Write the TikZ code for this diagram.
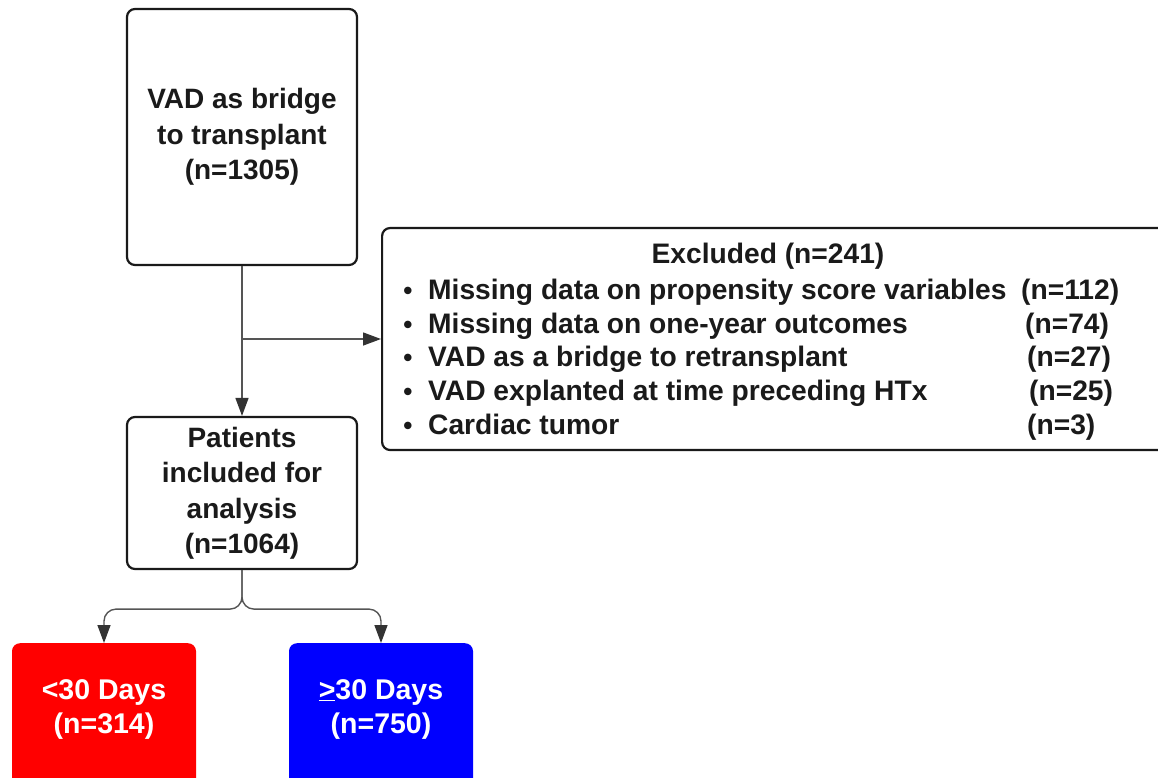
\documentclass[tikz,border=0pt]{standalone}
\usepackage{fontspec}
\setmainfont{Liberation Sans}
\usetikzlibrary{arrows.meta}
\definecolor{ink}{HTML}{1A1A1A}
\definecolor{wire}{HTML}{555555}
\definecolor{tip}{HTML}{333333}
\begin{document}
\begin{tikzpicture}[x=1pt,y=-1pt,
  box/.style={draw=ink, line width=2.2pt, rounded corners=8pt, inner sep=0pt,
    font=\fontsize{28}{35.5}\selectfont\bfseries, align=center, text=ink},
  colbox/.style={rounded corners=8pt, inner sep=0pt, minimum width=184pt,
    minimum height=160pt, anchor=north},
  coltxt/.style={font=\fontsize{28.5}{34}\selectfont\bfseries, align=center, text=white},
  item/.style={font=\fontsize{28.2}{33}\selectfont\bfseries, anchor=base west,
    inner sep=0pt, text=ink},
  dot/.style={font=\fontsize{26}{33}\selectfont\bfseries, anchor=base,
    inner sep=0pt, text=ink},
  conn/.style={draw=wire, line width=1.4pt,
    -{Triangle[length=18pt,width=13pt,fill=tip,color=tip]}}
]
\useasboundingbox (0,0) rectangle (1158,777);

% main flow boxes
\node[box, minimum width=230pt, minimum height=256pt] (top) at (242,137)
  {VAD as bridge\\to transplant\\(n=1305)};
\node[box, minimum width=230pt, minimum height=152pt] (pat) at (242,493)
  {Patients\\included for\\analysis\\(n=1064)};

% exclusion box (runs past the right edge)
\node[box, minimum width=820pt, minimum height=222pt, anchor=west] (excl) at (381,339) {};
\node[item, anchor=base] (exttl) at (768,263) {Excluded (n=241)};

% list rows, set on common baselines
\node[dot] (b1) at (408,299) {•};
\node[dot] (b2) at (408,333) {•};
\node[dot] (b3) at (408,366) {•};
\node[dot] (b4) at (408,400) {•};
\node[dot] (b5) at (408,434) {•};

\node[item] (r1) at (428,299) {Missing data on propensity score variables};
\node[item] (r2) at (428,333) {Missing data on one-year outcomes};
\node[item] (r3) at (428,366) {VAD as a bridge to retransplant};
\node[item] (r4) at (428,400) {VAD explanted at time preceding HTx};
\node[item] (r5) at (428,434) {Cardiac tumor};

\node[item] (n1) at (1021,299) {(n=112)};
\node[item] (n2) at (1025,333) {(n=74)};
\node[item] (n3) at (1027,366) {(n=27)};
\node[item] (n4) at (1029,400) {(n=25)};
\node[item] (n5) at (1027,434) {(n=3)};

% outcome groups
\node[colbox, fill=red] (lt) at (104,643) {};
\node[coltxt] (lttxt) at (104,709) {<30 Days\\(n=314)};
\node[colbox, fill=blue] (ge) at (381,643) {};
\node[coltxt] (getxt) at (381,709) {\underline{>}30 Days\\(n=750)};

% connectors
\draw[conn] (top.south) -- (pat.north);
\coordinate (split) at (top.south |- excl.west);
\draw[conn] (split) -- (excl.west);
\draw[conn, rounded corners=12pt] (pat.south) -- ++(0,39) -| (lt.north);
\draw[conn, rounded corners=12pt] (pat.south) -- ++(0,39) -| (ge.north);
\end{tikzpicture}
\end{document}
